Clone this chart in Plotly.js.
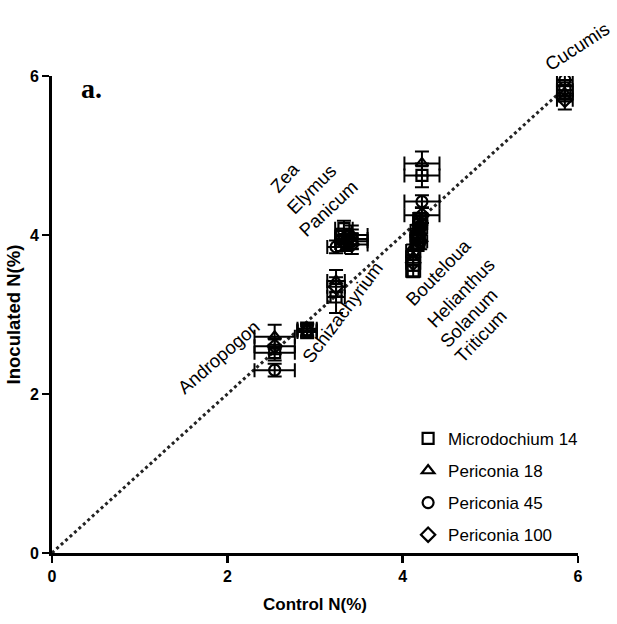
<!DOCTYPE html>
<html>
<head>
<meta charset="utf-8">
<script src="https://cdn.plot.ly/plotly-3.0.1.min.js"></script>
<style>
  html, body { margin: 0; padding: 0; background: #fff; }
  #chart { width: 617px; height: 624px; }
</style>
</head>
<body>
<div id="chart"></div>
<script>
// Plant species and their control (uninoculated) nitrogen content, %
const species = ['Andropogon', 'Schizachyrium', 'Panicum', 'Elymus', 'Zea',
                 'Bouteloua', 'Helianthus', 'Solanum', 'Triticum', 'Cucumis'];
const controlN   = [2.54, 2.91, 3.24, 3.33, 3.42, 4.12, 4.22, 4.17, 4.20, 5.85];
const controlErr = [0.23, 0.11, 0.10, 0.10, 0.18, 0.08, 0.20, 0.08, 0.08, 0.09];

// Nitrogen content of inoculated plants, one array per fungal isolate
const fungi = ['Microdochium 14', 'Periconia 18', 'Periconia 45', 'Periconia 100'];
const inocM14    = [2.52, 2.80, 3.22, 4.08, 3.95, 3.55, 4.75, 3.90, 4.20, 5.82];
const inocM14Err = [0.10, 0.08, 0.20, 0.10, 0.12, 0.08, 0.15, 0.10, 0.08, 0.10];
const inocP18    = [2.72, 2.82, 3.42, 3.98, 4.00, 3.72, 4.90, 4.05, 4.15, 5.78];
const inocP18Err = [0.15, 0.08, 0.14, 0.10, 0.12, 0.10, 0.15, 0.08, 0.08, 0.10];
const inocP45    = [2.30, 2.78, 3.85, 3.95, 3.92, 3.80, 4.42, 3.95, 4.10, 5.95];
const inocP45Err = [0.08, 0.08, 0.08, 0.10, 0.10, 0.08, 0.08, 0.08, 0.10, 0.08];
const inocP100    = [2.60, 2.80, 3.35, 3.90, 3.88, 3.65, 4.25, 4.00, 3.92, 5.70];
const inocP100Err = [0.10, 0.08, 0.12, 0.10, 0.12, 0.10, 0.10, 0.08, 0.10, 0.12];

const inocValues = [inocM14, inocP18, inocP45, inocP100];
const inocErrors = [inocM14Err, inocP18Err, inocP45Err, inocP100Err];
const symbols = ['square-open', 'triangle-up-open', 'circle-open', 'diamond-open'];

// 1:1 reference line
const refLine = [0, 5.85];

const traces = [{
  x: refLine, y: refLine,
  mode: 'lines',
  line: { color: '#222', width: 3, dash: 'dot' },
  showlegend: false, hoverinfo: 'skip'
}];

fungi.forEach((name, i) => {
  traces.push({
    name: name,
    legendgroup: 'g' + i,
    x: controlN,
    y: inocValues[i],
    text: species,
    mode: 'markers',
    marker: { symbol: symbols[i], size: 11, color: '#000', line: { width: 2.2, color: '#000' } },
    error_x: { type: 'data', array: controlErr, visible: true, color: '#000', thickness: 2, width: 7 },
    error_y: { type: 'data', array: inocErrors[i], visible: true, color: '#000', thickness: 2, width: 7 }
  });
});

// Species labels set along the 1:1 line
const labelFont = { family: 'Liberation Sans, Arial, sans-serif', size: 18.5, color: '#000' };
const speciesLabels = [
  { text: 'Andropogon',    x: 218, y: 357, angle: -41 },
  { text: 'Schizachyrium', x: 342, y: 312, angle: -53 },
  { text: 'Zea',           x: 285, y: 178, angle: -48 },
  { text: 'Elymus',        x: 311, y: 189, angle: -45 },
  { text: 'Panicum',       x: 328, y: 208, angle: -43 },
  { text: 'Bouteloua',     x: 438, y: 272, angle: -46 },
  { text: 'Helianthus',    x: 460, y: 293, angle: -46 },
  { text: 'Solanum',       x: 468, y: 318, angle: -46 },
  { text: 'Triticum',      x: 480, y: 336, angle: -46 },
  { text: 'Cucumis',       x: 577, y: 46,  angle: -33 }
];
const W = 617, H = 624, L = 52, R = 39, T = 76, B = 71;
const pw = W - L - R, ph = H - T - B;

const annotations = speciesLabels.map(s => ({
  text: s.text,
  xref: 'paper', yref: 'paper',
  x: (s.x - L) / pw, y: (H - B - s.y) / ph,
  xanchor: 'center', yanchor: 'middle',
  textangle: s.angle,
  showarrow: false,
  font: labelFont
}));

annotations.push({
  text: '<b>a.</b>',
  xref: 'paper', yref: 'paper',
  x: (91 - L) / pw, y: (H - B - 88) / ph,
  xanchor: 'center', yanchor: 'middle',
  showarrow: false,
  font: { family: 'Liberation Serif, Times New Roman, serif', size: 28, color: '#000' }
});

const tickFont = { family: 'Liberation Sans, Arial, sans-serif', size: 16, color: '#000', weight: 'bold' };
const xTitleFont = { family: 'Liberation Sans, Arial, sans-serif', size: 17, color: '#000', weight: 'bold' };
const yTitleFont = { family: 'Liberation Sans, Arial, sans-serif', size: 18.5, color: '#000', weight: 'bold' };

const layout = {
  width: W, height: H,
  margin: { l: L, r: R, t: T, b: B },
  paper_bgcolor: '#fff', plot_bgcolor: '#fff',
  xaxis: {
    range: [0, 6], tickvals: [0, 2, 4, 6], ticktext: ['0', '2', '4', '6'],
    showline: true, linecolor: '#000', linewidth: 3,
    ticks: 'outside', ticklen: 7, tickwidth: 2.5, tickcolor: '#000',
    showgrid: false, zeroline: false,
    tickfont: tickFont,
    title: { text: 'Control N(%)', font: xTitleFont, standoff: 14 }
  },
  yaxis: {
    range: [0, 6], tickvals: [0, 2, 4, 6], ticktext: ['0', '2', '4', '6'],
    showline: true, linecolor: '#000', linewidth: 3,
    ticks: 'outside', ticklen: 7, tickwidth: 2.5, tickcolor: '#000',
    showgrid: false, zeroline: false,
    tickfont: tickFont,
    title: { text: 'Inoculated N(%)', font: yTitleFont, standoff: 5 }
  },
  legend: {
    x: 0.677, y: 0.277, xanchor: 'left', yanchor: 'top',
    bgcolor: 'rgba(0,0,0,0)',
    font: { family: 'Liberation Sans, Arial, sans-serif', size: 17, color: '#000' },
    tracegroupgap: 7
  },
  annotations: annotations,
  showlegend: true
};

Plotly.newPlot('chart', traces, layout, { displayModeBar: false, staticPlot: true });
</script>
</body>
</html>
